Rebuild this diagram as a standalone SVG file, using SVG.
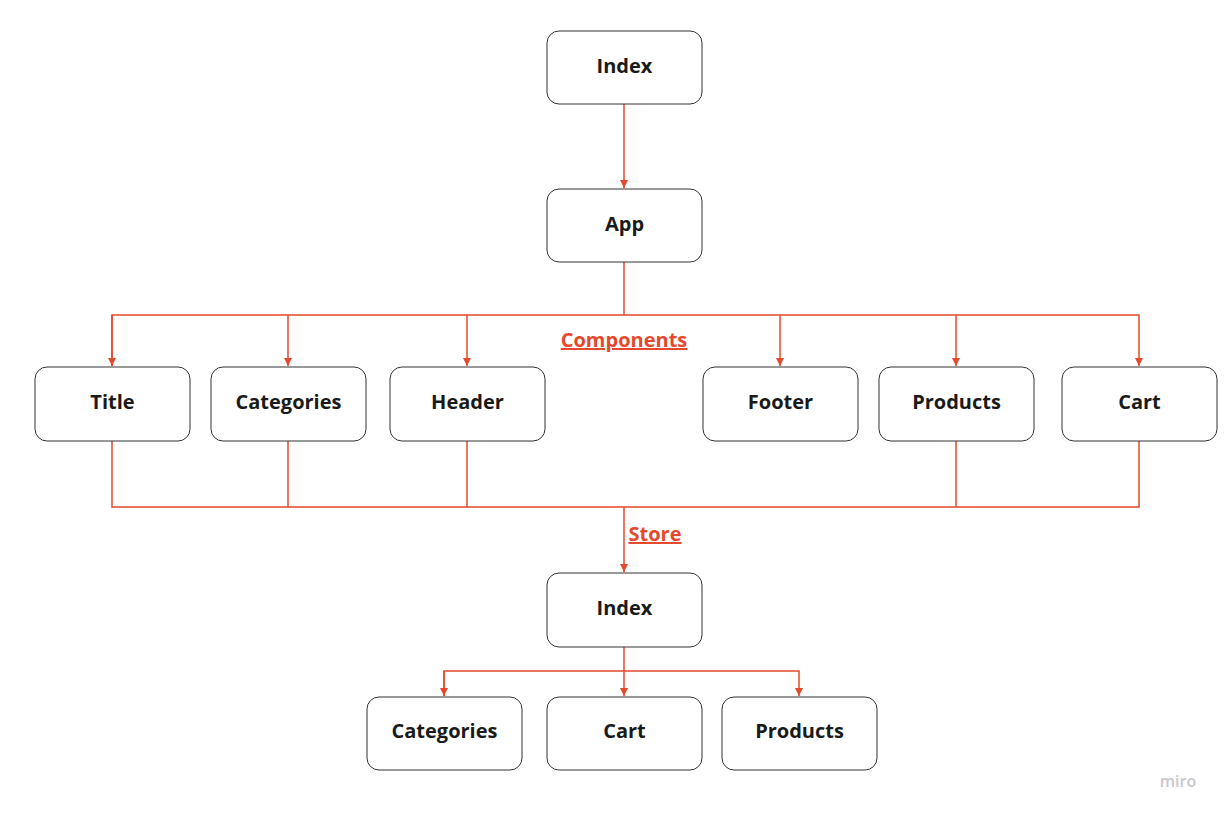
<svg xmlns="http://www.w3.org/2000/svg" width="1226" height="815" viewBox="0 0 1226 815">
<style>
.n rect{fill:#fff;stroke:#333;stroke-width:1}
.n text{font-family:"Open Sans",sans-serif;font-weight:700;font-size:20px;fill:#1a1a1a;text-anchor:middle}
.c path{fill:none;stroke:#e5492d;stroke-width:1.5}
.lbl{font-family:"Open Sans",sans-serif;font-weight:700;font-size:20px;fill:#e5492d;text-decoration:underline}
</style>
<defs>
<marker id="ah" viewBox="0 0 10 10" refX="10" refY="5" markerWidth="8" markerHeight="8" markerUnits="userSpaceOnUse" orient="auto">
<path d="M0,0 L10,5 L0,10 z" fill="#e5492d"/>
</marker>
</defs>
<rect width="1226" height="815" fill="#fff"/>
<g class="c">
<path d="M624,104 V188" marker-end="url(#ah)"/>
<path d="M624,262 V315"/>
<path d="M112,366 V315 H1139 V366" marker-end="url(#ah)"/>
<path d="M112,315 V366" marker-end="url(#ah)"/>
<path d="M288,315 V366" marker-end="url(#ah)"/>
<path d="M467,315 V366" marker-end="url(#ah)"/>
<path d="M780,315 V366" marker-end="url(#ah)"/>
<path d="M956,315 V366" marker-end="url(#ah)"/>
<path d="M112,441 V507 H1139 V441"/>
<path d="M288,441 V507"/>
<path d="M467,441 V507"/>
<path d="M956,441 V507"/>
<path d="M624,507 V572" marker-end="url(#ah)"/>
<path d="M624,647 V696" marker-end="url(#ah)"/>
<path d="M444,696 V671 H799 V696" marker-end="url(#ah)"/>
<path d="M444,671 V696" marker-end="url(#ah)"/>
</g>
<text class="lbl" x="624" y="347" text-anchor="middle">Components</text>
<text class="lbl" x="655" y="541" text-anchor="middle">Store</text>
<g id="index-top" class="n"><rect x="547" y="31" width="155" height="73" rx="12"/><text x="624.5" y="73">Index</text></g>
<g id="app" class="n"><rect x="547" y="189" width="155" height="73" rx="12"/><text x="624.5" y="231">App</text></g>
<g id="title" class="n"><rect x="35" y="367" width="155" height="74" rx="12"/><text x="112.5" y="409">Title</text></g>
<g id="categories" class="n"><rect x="211" y="367" width="155" height="74" rx="12"/><text x="288.5" y="409">Categories</text></g>
<g id="header" class="n"><rect x="390" y="367" width="155" height="74" rx="12"/><text x="467.5" y="409">Header</text></g>
<g id="footer" class="n"><rect x="703" y="367" width="155" height="74" rx="12"/><text x="780.5" y="409">Footer</text></g>
<g id="products" class="n"><rect x="879" y="367" width="155" height="74" rx="12"/><text x="956.5" y="409">Products</text></g>
<g id="cart" class="n"><rect x="1062" y="367" width="155" height="74" rx="12"/><text x="1139.5" y="409">Cart</text></g>
<g id="index-store" class="n"><rect x="547" y="573" width="155" height="74" rx="12"/><text x="624.5" y="615">Index</text></g>
<g id="store-categories" class="n"><rect x="367" y="697" width="155" height="73" rx="12"/><text x="444.5" y="738">Categories</text></g>
<g id="store-cart" class="n"><rect x="547" y="697" width="155" height="73" rx="12"/><text x="624.5" y="738">Cart</text></g>
<g id="store-products" class="n"><rect x="722" y="697" width="155" height="73" rx="12"/><text x="799.5" y="738">Products</text></g>
<text x="1178" y="787" font-family="'Open Sans',sans-serif" font-size="16" font-weight="600" fill="#c8c8cc" text-anchor="middle">miro</text>
</svg>
